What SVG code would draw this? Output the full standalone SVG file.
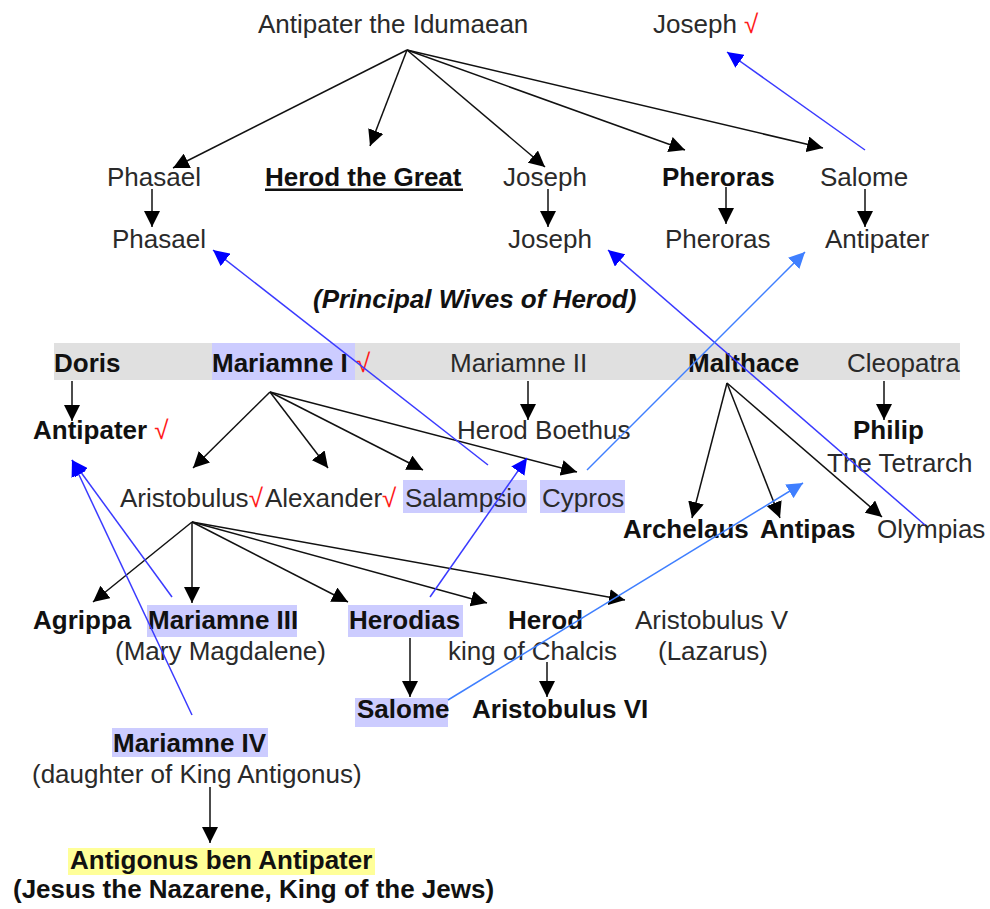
<svg xmlns="http://www.w3.org/2000/svg" width="990" height="909" viewBox="0 0 990 909">
<defs>
<style>
text{font-family:"Liberation Sans",Arial,sans-serif;font-size:26px;fill:#2a2a2a}
.b{font-weight:bold;fill:#111}
.bi{font-weight:bold;font-style:italic;fill:#111}
.chk{fill:#ff1a1a}
.hl{fill:#ccccff}
.k{stroke:#111;stroke-width:1.5;fill:none;marker-end:url(#ah)}
.bl{stroke:#3a3aff;stroke-width:1.5;fill:none;marker-end:url(#ahb)}
.lb{stroke:#3f7fff;stroke-width:1.5;fill:none;marker-end:url(#ahl)}
</style>
<marker id="ah" markerUnits="userSpaceOnUse" markerWidth="16" markerHeight="16" refX="16" refY="8" orient="auto"><path d="M0,0 L16,8 L0,16 z" fill="#000"/></marker>
<marker id="ahb" markerUnits="userSpaceOnUse" markerWidth="16" markerHeight="16" refX="16" refY="8" orient="auto"><path d="M0,0 L16,8 L0,16 z" fill="#0000ff"/></marker>
<marker id="ahl" markerUnits="userSpaceOnUse" markerWidth="16" markerHeight="16" refX="16" refY="8" orient="auto"><path d="M0,0 L16,8 L0,16 z" fill="#3f7fff"/></marker>
</defs>
<rect width="990" height="909" fill="#fff"/>
<rect id="wives-band" x="54" y="343" width="906" height="37" fill="#e0e0e0"/>

<g id="n-antipater-idumaean"><text x="258" y="33">Antipater the Idumaean</text></g>
<g id="n-joseph-top"><text x="653" y="33">Joseph <tspan class="chk">√</tspan></text></g>
<g id="n-phasael"><text x="107" y="186">Phasael</text></g>
<g id="n-herod-great"><text class="b" x="265" y="186">Herod the Great</text><rect x="265" y="188.5" width="198" height="2.5" fill="#111"/></g>
<g id="n-joseph"><text x="503" y="186">Joseph</text></g>
<g id="n-pheroras"><text class="b" x="662" y="186">Pheroras</text></g>
<g id="n-salome"><text x="820" y="186">Salome</text></g>
<g id="n-phasael2"><text x="112" y="248">Phasael</text></g>
<g id="n-joseph2"><text x="508" y="248">Joseph</text></g>
<g id="n-pheroras2"><text x="665" y="248">Pheroras</text></g>
<g id="n-antipater2"><text x="825" y="248">Antipater</text></g>
<g id="title"><text class="bi" x="313" y="308">(Principal Wives of Herod)</text></g>

<g id="n-doris"><text class="b" x="54" y="372">Doris</text></g>
<g id="n-mariamne1"><rect class="hl" x="212" y="343" width="143" height="37"/><text class="b" x="212" y="372">Mariamne I</text><text class="chk" x="356" y="372">√</text></g>
<g id="n-mariamne2"><text x="450" y="372">Mariamne II</text></g>
<g id="n-malthace"><text class="b" x="688" y="372">Malthace</text></g>
<g id="n-cleopatra"><text x="847" y="372">Cleopatra</text></g>

<g id="n-antipater-son"><text class="b" x="33" y="439">Antipater <tspan class="chk" font-weight="normal">√</tspan></text></g>
<g id="n-herod-boethus"><text x="457" y="439">Herod Boethus</text></g>
<g id="n-philip"><text class="b" x="853" y="439">Philip</text><text x="827" y="472">The Tetrarch</text></g>

<g id="n-aristobulus"><text x="120" y="507">Aristobulus<tspan class="chk">√</tspan></text></g>
<g id="n-alexander"><text x="265" y="507">Alexander<tspan class="chk">√</tspan></text></g>
<g id="n-salampsio"><rect class="hl" x="403" y="480" width="124" height="33"/><text x="405" y="507">Salampsio</text></g>
<g id="n-cypros"><rect class="hl" x="540" y="480" width="85" height="33"/><text x="542" y="507">Cypros</text></g>
<g id="n-archelaus"><text class="b" x="623" y="538">Archelaus</text></g>
<g id="n-antipas"><text class="b" x="760" y="538">Antipas</text></g>
<g id="n-olympias"><text x="877" y="538">Olympias</text></g>

<g id="n-agrippa"><text class="b" x="33" y="629">Agrippa</text></g>
<g id="n-mariamne3"><rect class="hl" x="147" y="605" width="150" height="32"/><text class="b" x="148" y="629">Mariamne III</text><text x="115" y="660">(Mary Magdalene)</text></g>
<g id="n-herodias"><rect class="hl" x="348" y="605" width="115" height="32"/><text class="b" x="349" y="629">Herodias</text></g>
<g id="n-herod-chalcis"><text class="b" x="508" y="629">Herod</text><text x="448" y="660">king of Chalcis</text></g>
<g id="n-aristobulus5"><text x="635" y="629">Aristobulus V</text><text x="658" y="660">(Lazarus)</text></g>
<g id="n-salome2"><rect class="hl" x="355" y="698" width="93" height="29"/><text class="b" x="357" y="718">Salome</text></g>
<g id="n-aristobulus6"><text class="b" x="472" y="718">Aristobulus VI</text></g>
<g id="n-mariamne4"><rect class="hl" x="112" y="728" width="156" height="29"/><text class="b" x="113" y="752">Mariamne IV</text><text x="32" y="783">(daughter of King Antigonus)</text></g>
<g id="n-antigonus"><rect x="68" y="848" width="307" height="27" fill="#ffff99"/><text class="b" x="70" y="869">Antigonus ben Antipater</text><text class="b" x="13" y="898">(Jesus the Nazarene, King of the Jews)</text></g>

<g id="connectors">
<path class="k" d="M407,50 L173,168"/>
<path class="k" d="M407,50 L370,146"/>
<path class="k" d="M407,50 L545,167"/>
<path class="k" d="M407,50 L685,150"/>
<path class="k" d="M407,50 L823,148"/>
<path class="k" d="M152,189 L152,227"/>
<path class="k" d="M548,189 L548,227"/>
<path class="k" d="M726,187 L726,224"/>
<path class="k" d="M865,189 L865,227"/>
<path class="k" d="M72,381 L72,421"/>
<path class="k" d="M270,392 L193,468"/>
<path class="k" d="M270,392 L328,468"/>
<path class="k" d="M270,392 L423,470"/>
<path class="k" d="M270,392 L577,472"/>
<path class="k" d="M528,381 L528,420"/>
<path class="k" d="M727,383 L692,518"/>
<path class="k" d="M727,383 L780,518"/>
<path class="k" d="M727,383 L882,517"/>
<path class="k" d="M884,381 L884,420"/>
<path class="k" d="M192,522 L93,602"/>
<path class="k" d="M192,522 L192,603"/>
<path class="k" d="M192,522 L348,602"/>
<path class="k" d="M192,522 L487,603"/>
<path class="k" d="M192,522 L625,600"/>
<path class="k" d="M410,638 L410,697"/>
<path class="k" d="M547,662 L547,697"/>
<path class="k" d="M210,787 L210,843"/>
<path class="bl" d="M865,150 L727,52"/>
<path class="bl" d="M488,465 L213,250"/>
<path class="bl" d="M925,525 L608,250"/>
<path class="lb" d="M587,470 L805,252"/>
<path class="bl" d="M172,597 L72,460"/>
<path class="bl" d="M192,715 L72,460"/>
<path class="bl" d="M430,597 L527,458"/>
<path class="lb" d="M448,700 L803,483"/>
</g>
</svg>
